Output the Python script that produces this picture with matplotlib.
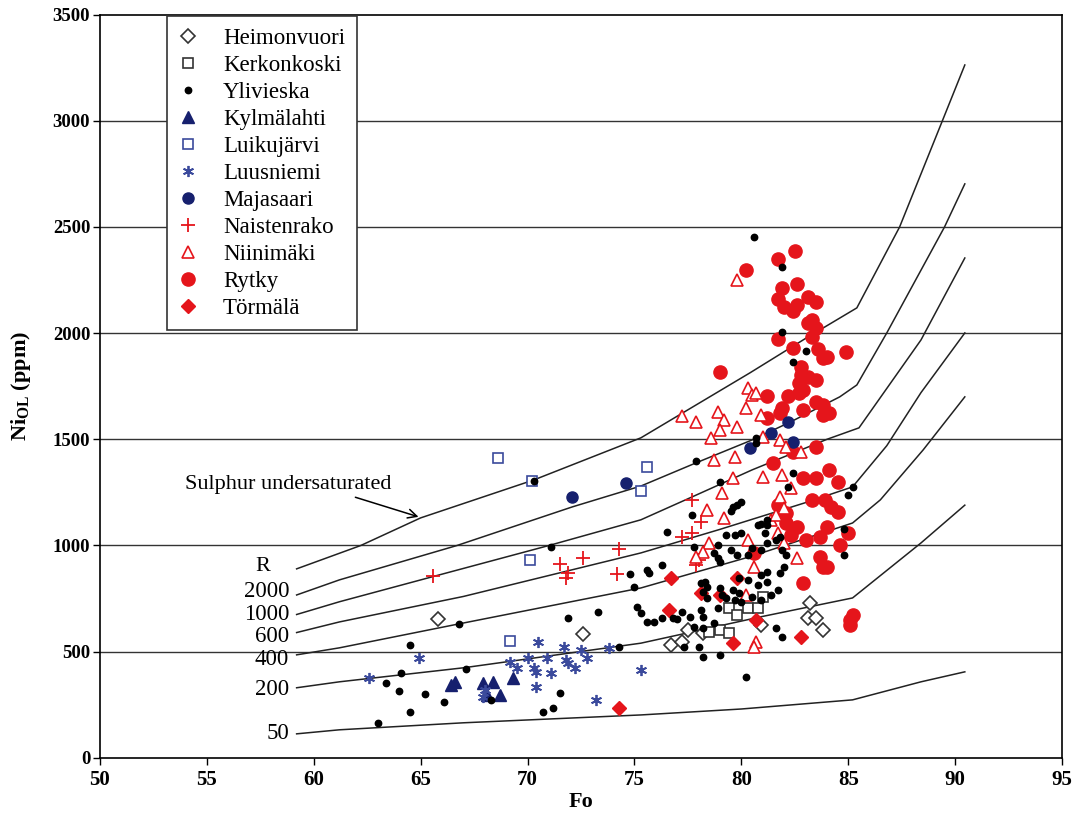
import numpy as np
import matplotlib
matplotlib.use('Agg')
import matplotlib.pyplot as plt

plt.rcParams['font.family'] = ['Liberation Serif', 'DejaVu Serif']
plt.rcParams['mathtext.fontset'] = 'custom'
plt.rcParams['mathtext.rm'] = 'Liberation Serif'
plt.rcParams['mathtext.bf'] = 'Liberation Serif:bold'

# ---- model curves (Fo, Ni ppm) for different R values ----
curve_undersat_fo = [59.2, 62.2, 65.0, 70.3, 75.3, 80.4, 83.0, 85.4, 87.4, 89.4, 90.45]
curve_undersat_ni = [890, 1000, 1130, 1309, 1507, 1813, 1975, 2119, 2500, 3000, 3263]
curve_2000_fo = [59.2, 61.2, 66.7, 72.1, 75.3, 77.9, 80.5, 82.3, 84.6, 85.4, 86.8, 89.5, 90.45]
curve_2000_ni = [767, 838, 1000, 1182, 1280, 1390, 1497, 1582, 1700, 1756, 2001, 2500, 2703]
curve_1000_fo = [59.2, 61.2, 66.0, 71.0, 75.3, 77.5, 80.5, 84.0, 85.5, 88.4, 90.45]
curve_1000_ni = [675, 735, 865, 1000, 1121, 1220, 1356, 1500, 1554, 1968, 2354]
curve_600_fo = [59.2, 61.2, 67.0, 75.3, 79.0, 83.1, 85.2, 86.8, 88.4, 90.45]
curve_600_ni = [590, 640, 760, 965, 1076, 1205, 1276, 1470, 1720, 2001]
curve_400_fo = [59.2, 61.2, 66.8, 75.3, 80.5, 85.2, 86.5, 88.5, 90.45]
curve_400_ni = [485, 518, 631, 800, 950, 1106, 1215, 1450, 1700]
curve_200_fo = [59.2, 61.2, 67.0, 75.3, 80.9, 85.2, 88.4, 90.45]
curve_200_ni = [330, 358, 424, 540, 664, 753, 1012, 1190]
curve_50_fo = [59.2, 61.2, 67.0, 75.3, 80.0, 85.2, 88.4, 90.45]
curve_50_ni = [113, 132, 165, 202, 230, 273, 358, 405]

curve_labels = ['2000', '1000', '600', '400', '200', '50']
curve_label_ni = [781, 673, 570, 461, 320, 113]

# ---- samples ----
heim_fo = [65.8, 72.6, 76.7, 77.2, 77.5, 78.2, 80.9, 83.2, 83.1, 83.5, 83.8]
heim_ni = [655, 584, 532, 546, 603, 588, 626, 730, 659, 659, 603]

kerk_fo = [79.4, 79.8, 80.3, 80.8, 81.0, 79.0, 78.5, 79.4]
kerk_ni = [706, 673, 706, 706, 758, 603, 593, 588]

yli_fo = [63.0, 63.4, 64.1, 64.0, 64.5, 64.5, 65.2, 66.1, 66.8, 67.1, 68.3, 70.3, 70.7, 71.2,
          71.1, 71.5, 71.9, 73.3, 74.3, 74.8, 75.0, 75.1, 75.3, 75.6, 75.7, 75.6, 75.9, 76.3,
          76.3, 76.8, 77.0, 77.2, 77.6, 79.8, 80.0, 79.6, 77.7, 76.5, 80.9, 81.2, 79.3, 79.7,
          80.0, 81.1, 81.6, 81.8, 78.9, 77.8, 78.7, 78.9, 79.0, 79.5, 79.8, 80.3, 80.5, 80.9,
          81.2, 81.9, 82.1, 82.0, 81.8, 84.8, 84.8, 78.1, 78.3, 78.4, 78.2, 78.4, 79.0, 79.1,
          79.3, 79.6, 79.9, 79.7, 80.0, 80.5, 80.8, 81.2, 80.9, 81.2, 80.9, 81.4, 81.7, 78.1,
          78.2, 77.8, 78.2, 78.7, 78.9, 78.0, 78.2, 79.0, 77.3, 80.2, 81.6, 81.9, 79.9, 80.3,
          77.9, 79.0, 79.5, 80.7, 82.4, 82.2, 81.2, 80.8, 85.2, 85.0, 81.9, 83.0, 82.4, 80.6,
          81.9, 80.7]
yli_ni = [165, 353, 400, 316, 532, 217, 301, 264, 631, 419, 273, 1304, 217, 235,
          993, 306, 659, 687, 523, 866, 805, 711, 683, 885, 871, 640, 640, 909,
          659, 659, 655, 687, 664, 1191, 1205, 1182, 1144, 1064, 1102, 1097, 1050, 1050,
          1059, 1059, 1026, 1040, 1003, 993, 965, 942, 923, 979, 956, 956, 989, 979,
          1012, 979, 956, 899, 871, 1078, 956, 824, 829, 805, 782, 753, 800, 767,
          753, 791, 777, 744, 734, 758, 814, 829, 862, 876, 744, 767, 791, 697,
          664, 617, 612, 636, 706, 523, 475, 485, 523, 381, 612, 570, 847, 838,
          1398, 1299, 1163, 1507, 1342, 1276, 1120, 1097, 1276, 1238, 2006, 1916, 1864, 2453,
          2312, 1483]

kylm_fo = [66.4, 66.6, 67.9, 68.4, 68.7, 69.3, 68.1]
kylm_ni = [345, 358, 353, 358, 297, 377, 297]

luik_fo = [68.6, 70.2, 75.6, 75.3, 70.1, 69.2]
luik_ni = [1413, 1304, 1370, 1257, 932, 551]

luus_fo = [62.6, 64.9, 68.0, 67.9, 69.2, 69.5, 70.0, 70.3, 70.4, 70.5, 70.9, 71.1, 70.4,
           71.7, 71.8, 72.2, 72.5, 72.8, 73.2, 73.8, 75.3, 71.9]
luus_ni = [377, 471, 320, 287, 452, 424, 471, 424, 405, 546, 471, 400, 334,
           523, 461, 424, 508, 471, 273, 518, 414, 447]

maja_fo = [72.1, 74.6, 80.4, 81.4, 82.2, 82.4]
maja_ni = [1229, 1295, 1460, 1530, 1582, 1488]

nais_fo = [65.6, 71.5, 71.9, 71.8, 72.6, 74.3, 74.2, 78.1, 77.2, 77.7, 78.0, 77.9, 77.7]
nais_ni = [857, 913, 871, 845, 942, 984, 866, 1111, 1040, 1059, 932, 909, 1215]

niin_fo = [79.8, 80.3, 80.5, 80.7, 77.2, 77.9, 78.9, 79.2, 80.2, 80.9, 79.8, 79.0, 78.6, 81.0,
           81.8, 82.1, 82.8, 78.7, 79.7, 79.6, 81.0, 81.9, 82.3, 79.1, 81.8, 78.4, 82.0, 79.2,
           81.4, 81.7, 80.3, 82.0, 78.5, 78.2, 77.9, 80.6, 82.6, 80.2, 80.7, 80.6, 81.6]
niin_ni = [2250, 1742, 1709, 1718, 1610, 1582, 1629, 1591, 1648, 1615, 1558, 1544, 1507, 1511,
           1497, 1464, 1441, 1403, 1417, 1318, 1323, 1332, 1271, 1248, 1229, 1168, 1177, 1130,
           1120, 1059, 1026, 1012, 1012, 970, 946, 899, 942, 767, 546, 523, 1144]

ryt_fo = [80.2, 81.7, 82.5, 81.9, 82.6, 83.1, 83.5, 81.7, 82.0, 82.4, 82.6, 83.1, 83.3, 83.5,
          83.3, 81.7, 82.4, 83.6, 83.8, 84.0, 84.9, 79.0, 82.8, 82.8, 83.1, 83.5, 82.7, 82.9,
          82.7, 81.2, 82.2, 83.5, 83.8, 84.1, 83.8, 82.9, 81.9, 81.8, 81.2, 83.5, 81.5, 82.4,
          82.9, 83.5, 84.1, 84.5, 83.3, 83.9, 84.2, 84.5, 81.7, 82.1, 82.1, 82.6, 82.3, 83.0,
          83.7, 84.0, 85.0, 84.6, 83.7, 83.8, 84.0, 82.9, 80.6, 85.1, 85.2, 85.1]
ryt_ni = [2297, 2349, 2387, 2213, 2232, 2170, 2147, 2161, 2123, 2104, 2133, 2048, 2062, 2024,
          1982, 1973, 1930, 1926, 1883, 1888, 1911, 1817, 1841, 1803, 1794, 1780, 1766, 1733,
          1719, 1704, 1704, 1676, 1662, 1624, 1615, 1638, 1648, 1624, 1601, 1464, 1389, 1441,
          1318, 1318, 1356, 1299, 1215, 1215, 1182, 1158, 1191, 1153, 1106, 1088, 1050, 1026,
          1040, 1088, 1059, 1003, 946, 899, 899, 824, 965, 650, 673, 626]

torm_fo = [74.3, 76.7, 79.8, 78.1, 79.0, 76.6, 79.6, 80.7, 82.8]
torm_ni = [235, 847, 847, 777, 767, 697, 541, 650, 570]

navy = '#16206e'
blue = '#3b4a9c'
red = '#e5151b'

fig = plt.figure(figsize=(10.86, 8.14), dpi=100)
ax = fig.add_axes([0.092, 0.069, 0.886, 0.913])

# grid lines first so everything sits on top
for g in range(500, 3500, 500):
    ax.axhline(g, color='#333333', lw=1.0, zorder=0)

# model curves
for fo, ni in [(curve_undersat_fo, curve_undersat_ni), (curve_2000_fo, curve_2000_ni),
               (curve_1000_fo, curve_1000_ni), (curve_600_fo, curve_600_ni),
               (curve_400_fo, curve_400_ni), (curve_200_fo, curve_200_ni),
               (curve_50_fo, curve_50_ni)]:
    ax.plot(fo, ni, color='#222222', lw=1.1, zorder=1)

# samples
ax.plot(heim_fo, heim_ni, 'D', ms=7, mfc='white', mec='#333333', mew=1.2, ls='none', label='Heimonvuori', zorder=3)
ax.plot(kerk_fo, kerk_ni, 's', ms=7, mfc='white', mec='#333333', mew=1.2, ls='none', label='Kerkonkoski', zorder=3)
ax.plot(yli_fo, yli_ni, 'o', ms=4.6, color='black', ls='none', label='Ylivieska', zorder=4)
ax.plot(kylm_fo, kylm_ni, '^', ms=8, color=navy, ls='none', label='Kylmälahti', zorder=3)
ax.plot(luik_fo, luik_ni, 's', ms=7, mfc='white', mec=blue, mew=1.2, ls='none', label='Luikujärvi', zorder=3)
ax.plot(luus_fo, luus_ni, marker=(6, 2, 0), ms=8, color=blue, mew=1.3, ls='none', label='Luusniemi', zorder=3)
ax.plot(maja_fo, maja_ni, 'o', ms=8, color=navy, ls='none', label='Majasaari', zorder=3)
ax.plot(nais_fo, nais_ni, '+', ms=10, color=red, mew=1.3, ls='none', label='Naistenrako', zorder=3)
ax.plot(niin_fo, niin_ni, '^', ms=8, mfc='white', mec=red, mew=1.2, ls='none', label='Niinimäki', zorder=3)
ax.plot(ryt_fo, ryt_ni, 'o', ms=9.5, color=red, ls='none', label='Rytky', zorder=2)
ax.plot(torm_fo, torm_ni, 'D', ms=7.5, color=red, ls='none', label='Törmälä', zorder=3)

# curve labels
ax.text(57.6, 899, 'R', fontsize=16, ha='center', va='center')
for lab, y in zip(curve_labels, curve_label_ni):
    ax.text(58.85, y, lab, fontsize=16.5, ha='right', va='center')

ax.annotate('Sulphur undersaturated', xy=(64.9, 1135), xytext=(54.0, 1285),
            fontsize=16, va='center', ha='left',
            arrowprops=dict(arrowstyle='->', color='black', lw=1.1,
                            shrinkA=0, shrinkB=0, relpos=(0.78, 0.0)))

ax.set_xlim(50, 95)
ax.set_ylim(0, 3500)
ax.set_xticks(np.arange(50, 96, 5))
ax.set_yticks(np.arange(0, 3501, 500))
ax.tick_params(direction='out', length=5, width=1, colors='black')
ax.tick_params(axis='y', pad=2)
for t in ax.get_xticklabels():
    t.set_fontweight('bold')
    t.set_fontsize(15)
for t in ax.get_yticklabels():
    t.set_fontweight('bold')
    t.set_fontsize(13.5)
for s in ax.spines.values():
    s.set_linewidth(1.2)

ax.set_xlabel('Fo', fontsize=16, fontweight='bold', labelpad=2)
ax.set_ylabel(r'$\mathbf{Ni_{OL}}$ (ppm)', fontsize=16, fontweight='bold', labelpad=14)

leg = ax.legend(loc='upper left', bbox_to_anchor=(0.0697, 0.998), borderaxespad=0,
                fontsize=16.5, frameon=True, fancybox=False, framealpha=1,
                edgecolor='#333333', handlelength=0.8, handletextpad=1.15,
                labelspacing=0.26, borderpad=0.5, numpoints=1)
leg.get_frame().set_linewidth(1.2)

fig.savefig('out.png', dpi=100)
